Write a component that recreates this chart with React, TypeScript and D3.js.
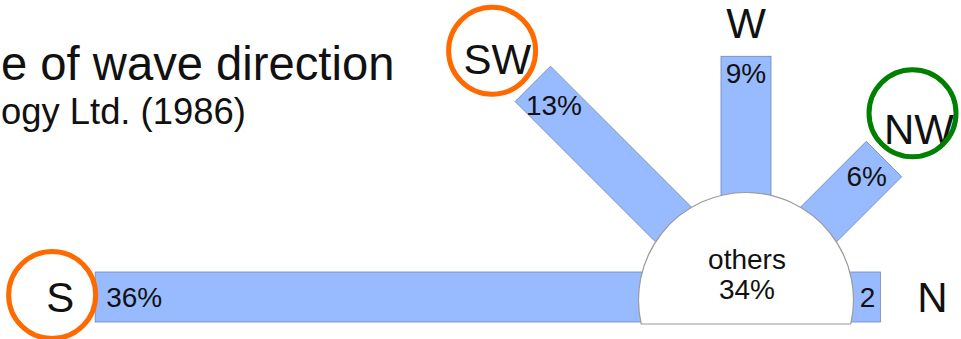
import React from "react";
import * as d3 from "d3";

// Wave direction shares (percent); bar length beyond the "others" disk encodes the share
const directions = ["S", "SW", "W", "NW", "N"];
const bearings = [180, 135, 90, 45, 0]; // degrees, counter-clockwise from screen east
const shares = [36, 13, 9, 6, 2];
const valueLabels = ["36%", "13%", "9%", "6%", "2"];
const othersLabel = "others";
const othersShare = 34;
const titleText = "e of wave direction";
const subtitleText = "ogy Ltd. (1986)";
const highlighted = ["S", "SW", "NW"];
const highlightColors = ["#ff6a00", "#ff6a00", "#008000"];

// ---- layout / style ----
const WIDTH = 961;
const HEIGHT = 339;
const CX = 746;
const CY = 297;
const BAR_W = 50;
const DISK_R = 104;
const PX_PER_PCT = 15.19;
const DISK_CY = 300;
const DISK_DRAW_R = 107.5;
const BASE_Y = 324;
const FONT = "'Liberation Sans', Arial, sans-serif";
const VALUE_FS = 28;
const DIR_FS = 42;
const BAR_FILL = "#98bbff";
const BAR_STROKE = "#6f86b5";

// padding between bar end and its value label
const valuePad: Record<string, number> = { S: 11, SW: 3, W: 7, NW: 3, N: 5 };
// distance from bar end to direction label centre, plus small nudges
const dirGap: Record<string, number> = { S: 35, SW: 43, W: 33, NW: 46, N: 52 };
const dirNudge: Record<string, [number, number]> = { SW: [-5, 5], NW: [2.5, 2.5] };
const ringOffset: Record<string, [number, number]> = {
  S: [-8, -2],
  SW: [-5.3, -7.6],
  NW: [-6.5, -15.7],
};
const RING_R = 43.5;

const maxShare = d3.max(shares) as number;
const lengthScale = d3
  .scaleLinear()
  .domain([0, maxShare])
  .range([DISK_R, DISK_R + maxShare * PX_PER_PCT]);

function textWidth(s: string, fs: number) {
  let w = 0;
  for (const ch of s) w += ch === "%" ? 0.889 : 0.556;
  return w * fs;
}

export default function App() {
  const items = directions.map((d, i) => {
    const a = (bearings[i] * Math.PI) / 180;
    const ux = Math.cos(a);
    const uy = -Math.sin(a);
    const len = lengthScale(shares[i]);
    // value label tucked inside the outer end of the bar
    const tw = textWidth(valueLabels[i], VALUE_FS);
    const th = 20;
    const inset = (valuePad[d] ?? 6) + Math.abs(ux) * (tw / 2) + Math.abs(uy) * (th / 2);
    const vx = CX + ux * (len - inset);
    const vy = CY + uy * (len - inset);
    // direction name beyond the bar end
    const g = dirGap[d] ?? 40;
    const n = dirNudge[d] ?? [0, 0];
    const lx = CX + ux * (len + g) + n[0];
    const ly = CY + uy * (len + g) + n[1];
    return { d, angle: bearings[i], len, vx, vy, lx, ly, label: valueLabels[i] };
  });

  const dy = BASE_Y - DISK_CY;
  const dx = Math.sqrt(DISK_DRAW_R * DISK_DRAW_R - dy * dy);
  const diskPath = d3.path();
  diskPath.moveTo(CX - dx, BASE_Y);
  const startA = Math.atan2(dy, -dx);
  const endA = Math.atan2(dy, dx);
  diskPath.arc(CX, DISK_CY, DISK_DRAW_R, startA, endA + 2 * Math.PI, false);
  diskPath.closePath();

  return (
    <svg
      width={WIDTH}
      height={HEIGHT}
      style={{ position: "absolute", left: 0, top: 0, overflow: "hidden", background: "#fff" }}
      fontFamily={FONT}
    >
      <rect x={0} y={0} width={WIDTH} height={HEIGHT} fill="#fff" />

      <text x={1} y={80} fontSize={47.2} textAnchor="start" fill="#111">
        {titleText}
      </text>
      <text x={1} y={124} fontSize={36.4} textAnchor="start" fill="#111">
        {subtitleText}
      </text>

      {items.map((it) => (
        <rect
          key={"bar-" + it.d}
          x={0}
          y={-BAR_W / 2}
          width={it.len}
          height={BAR_W}
          fill={BAR_FILL}
          stroke={BAR_STROKE}
          strokeWidth={0.8}
          transform={`translate(${CX},${CY}) rotate(${-it.angle})`}
        />
      ))}

      <path d={diskPath.toString()} fill="#fff" stroke="#9a9a9a" strokeWidth={1.2} />
      <text x={747} y={269.3} fontSize={VALUE_FS} textAnchor="middle" fill="#111">
        {othersLabel}
      </text>
      <text x={747} y={299.3} fontSize={VALUE_FS} textAnchor="middle" fill="#111">
        {othersShare + "%"}
      </text>

      {items.map((it) => (
        <text
          key={"val-" + it.d}
          x={it.vx}
          y={it.vy}
          dy="0.36em"
          fontSize={VALUE_FS}
          textAnchor="middle"
          fill="#111"
        >
          {it.label}
        </text>
      ))}

      {items.map((it) => (
        <text
          key={"dir-" + it.d}
          x={it.lx}
          y={it.ly}
          dy="0.36em"
          fontSize={DIR_FS}
          textAnchor="middle"
          fill="#111"
        >
          {it.d}
        </text>
      ))}

      {highlighted.map((d, i) => {
        const it = items.find((x) => x.d === d)!;
        const o = ringOffset[d] ?? [0, 0];
        return (
          <circle
            key={"ring-" + d}
            cx={it.lx + o[0]}
            cy={it.ly + o[1]}
            r={RING_R}
            fill="none"
            stroke={highlightColors[i]}
            strokeWidth={5}
          />
        );
      })}
    </svg>
  );
}
